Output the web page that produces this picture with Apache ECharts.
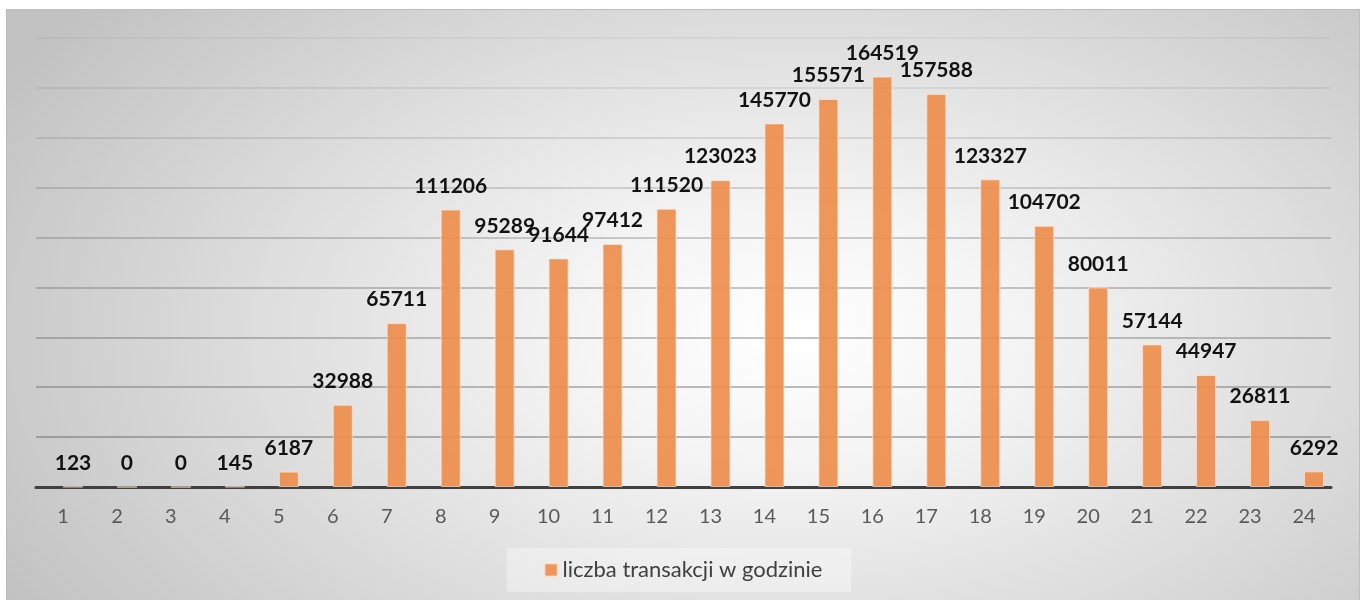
<!DOCTYPE html>
<html>
<head>
<meta charset="utf-8">
<script src="https://cdn.jsdelivr.net/npm/echarts@6/dist/echarts.min.js"></script>
<style>
  html, body { margin: 0; padding: 0; background: #fff; }
  #chart {
    position: absolute;
    left: 6px;
    top: 9px;
    width: 1354px;
    height: 591px;
    box-sizing: border-box;
    border: 1px solid #bdbdbd;
    border-bottom: none;
    background: radial-gradient(ellipse 900px 520px at 58% 55%, #ffffff 0%, #f4f4f4 25%, #c2c2c2 100%);
  }
</style>
</head>
<body>
<div id="chart"></div>
<script>
const hours = ['1', '2', '3', '4', '5', '6', '7', '8', '9', '10', '11', '12',
  '13', '14', '15', '16', '17', '18', '19', '20', '21', '22', '23', '24'];
const transactions = [123, 0, 0, 145, 6187, 32988, 65711, 111206, 95289, 91644, 97412, 111520,
  123023, 145770, 155571, 164519, 157588, 123327, 104702, 80011, 57144, 44947, 26811, 6292];
const seriesName = 'liczba transakcji w godzinie';

const font = 'Lato, "Open Sans", sans-serif';
const orange = '#ee8d4c';

// grid lines get lighter towards the top, like the original
const gridColors = ['rgba(0,0,0,0)', 'rgba(90,90,90,0.55)', 'rgba(90,90,90,0.52)', 'rgba(90,90,90,0.48)',
  'rgba(90,90,90,0.44)', 'rgba(90,90,90,0.38)', 'rgba(90,90,90,0.3)', 'rgba(90,90,90,0.22)',
  'rgba(90,90,90,0.14)', 'rgba(90,90,90,0.08)'];

const chart = echarts.init(document.getElementById('chart'));
chart.setOption({
  animation: false,
  textStyle: { fontFamily: font },
  grid: { left: 29, right: 28, top: 28, bottom: 113, containLabel: false },
  legend: {
    data: [seriesName],
    left: 'center',
    top: 538,
    icon: 'rect',
    itemWidth: 13,
    itemHeight: 13,
    itemGap: 6,
    backgroundColor: 'rgba(255,255,255,0.35)',
    padding: [11, 29, 11, 37],
    textStyle: { color: '#404040', fontSize: 22, fontFamily: font },
  },
  xAxis: {
    type: 'category',
    data: hours,
    axisTick: { show: false },
    axisLine: { lineStyle: { color: '#404040', width: 3 } },
    axisLabel: { color: '#595959', fontSize: 20, margin: 20 },
  },
  yAxis: {
    type: 'value',
    min: 0,
    max: 180000,
    interval: 20000,
    axisLabel: { show: false },
    axisLine: { show: false },
    axisTick: { show: false },
    splitLine: { lineStyle: { color: gridColors, width: 1.5 } },
  },
  series: [
    {
      name: 'pad',
      type: 'bar',
      data: hours.map(() => null),
      barWidth: 20,
      barGap: '0%',
    },
    {
      name: seriesName,
      type: 'bar',
      data: transactions,
      barWidth: 20,
      barGap: '0%',
      itemStyle: { color: orange, opacity: 0.92, borderColor: 'rgba(255,235,220,0.7)', borderWidth: 1 },
      label: {
        show: true,
        position: 'top',
        distance: 13,
        color: '#000',
        fontWeight: 'bold',
        fontSize: 21,
        fontFamily: font,
      },
    },
  ],
});
</script>
</body>
</html>
